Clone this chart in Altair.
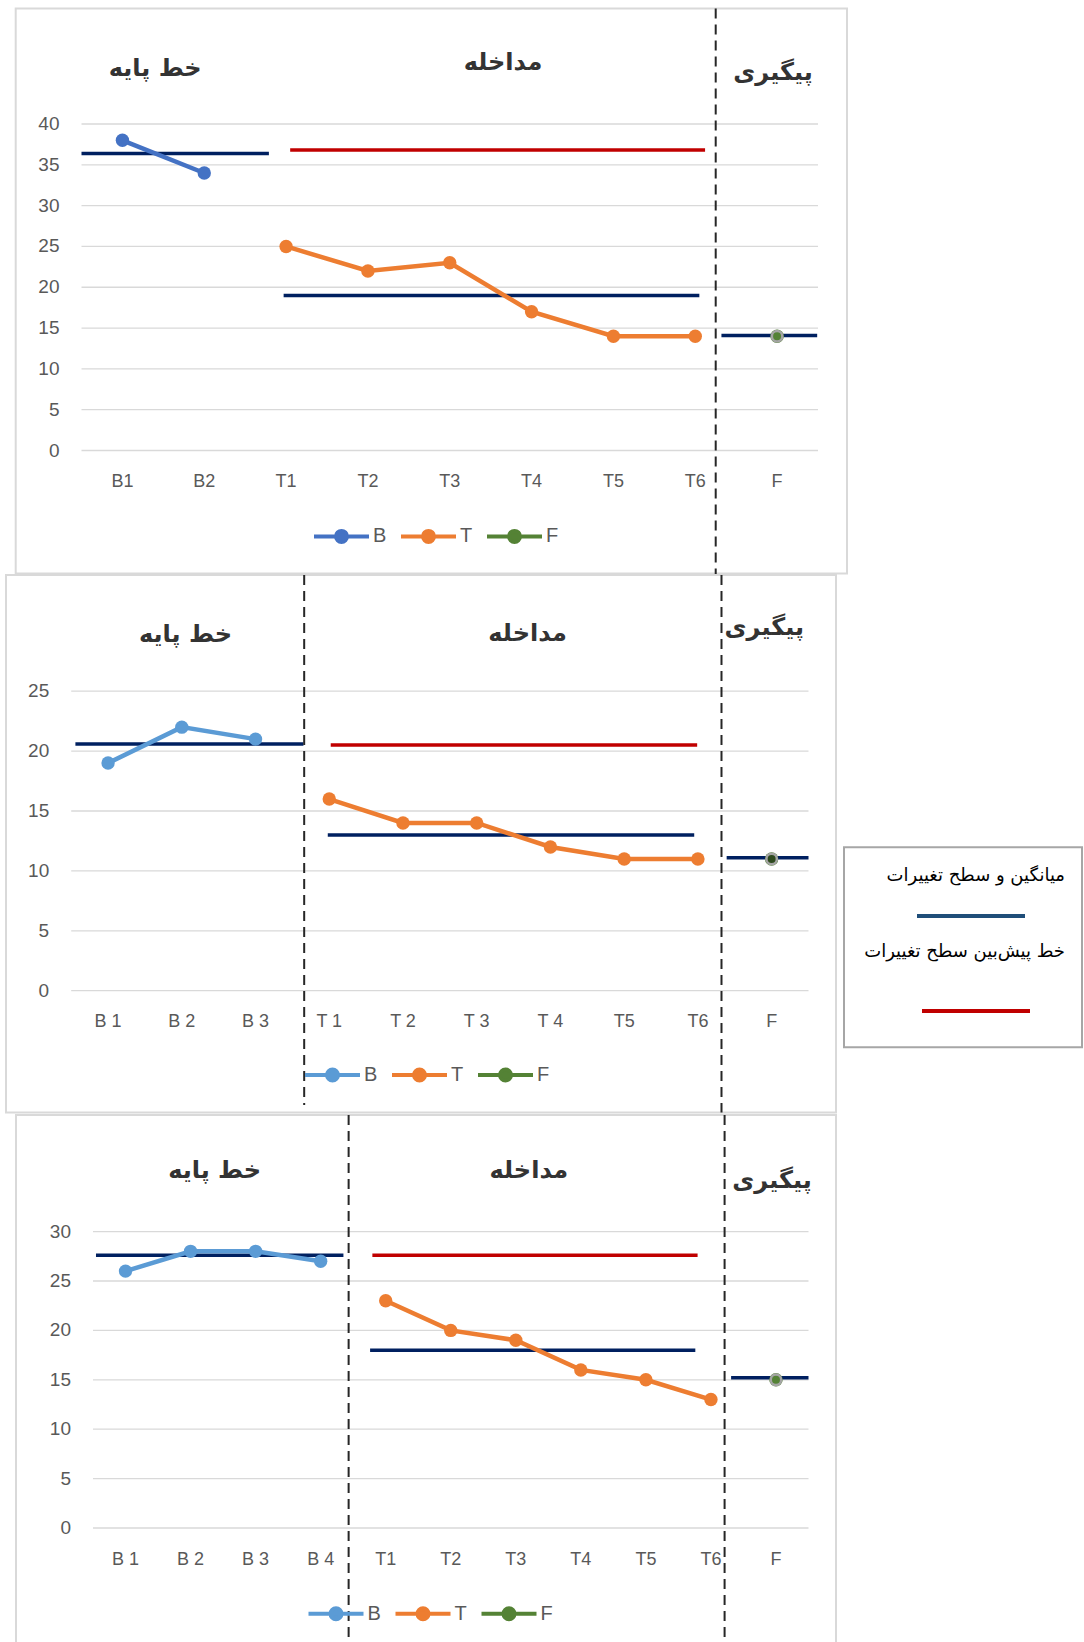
import altair as alt
import pandas as pd

# ---------------- data ----------------
series_names = ["B", "T", "F"]
phase_names = ["خط پایه", "مداخله", "پیگیری"]
legend_box_texts = ["میانگین و سطح تغییرات", "خط پیش‌بین سطح تغییرات"]

p1_categories = ["B1", "B2", "T1", "T2", "T3", "T4", "T5", "T6", "F"]
p1_B = [38, 34]
p1_T = [25, 22, 23, 17, 14, 14]
p1_F = [14]
p1_mean_B, p1_mean_T, p1_mean_F = 36.4, 19.0, 14.1
p1_pred = 36.8

p2_categories = ["B 1", "B 2", "B 3", "T 1", "T 2", "T 3", "T 4", "T5", "T6", "F"]
p2_B = [19, 22, 21]
p2_T = [16, 14, 14, 12, 11, 11]
p2_F = [11]
p2_mean_B, p2_mean_T, p2_mean_F = 20.6, 13.0, 11.1
p2_pred = 20.5

p3_categories = ["B 1", "B 2", "B 3", "B 4", "T1", "T2", "T3", "T4", "T5", "T6", "F"]
p3_B = [26, 28, 28, 27]
p3_T = [23, 20, 19, 16, 15, 13]
p3_F = [15]
p3_mean_B, p3_mean_T, p3_mean_F = 27.6, 18.0, 15.2
p3_pred = 27.6

# ---------------- layout / style ----------------
CANVAS_W, CANVAS_H = 1084, 1642
FONT = "Liberation Sans, Arial, sans-serif"
FA_FONT = "DejaVu Sans, sans-serif"
LABEL = "#595959"
GRID = "#D9D9D9"
NAVY = "#002060"
RED = "#C00000"
ORANGE = "#ED7D31"
GREEN = "#548235"
SYMBOL_PATH = "M-1,0H1M-0.2,0A0.2,0.2,0,1,1,0.2,0A0.2,0.2,0,1,1,-0.2,0Z"

panels = [
    dict(cats=p1_categories, B=p1_B, T=p1_T, F=p1_F,
         means=[(p1_mean_B, 0.5, 2.79), (p1_mean_T, 2.97, 8.05), (p1_mean_F, 8.32, 9.49)],
         pred=(p1_pred, 3.05, 8.12), ymax=40,
         origin=(81.5, 124.0), width=736.5, height=326.5,
         box=(15.7, 8.4, 847.0, 573.5),
         dashes=[(8.25, 8.4, 574.5)],
         phases=[(1.40, 69.0), (5.65, 62.8), (8.95, 73.3)],
         legend_xy=(312.0, 534.4), colorB="#4472C4", fdot=GREEN, legend_box=False),
    dict(cats=p2_categories, B=p2_B, T=p2_T, F=p2_F,
         means=[(p2_mean_B, 0.557, 3.65), (p2_mean_T, 3.98, 8.95), (p2_mean_F, 9.39, 10.5)],
         pred=(p2_pred, 4.02, 8.99), ymax=25,
         origin=(71.2, 691.2), width=737.3, height=299.5,
         box=(6.0, 575.0, 836.0, 1112.5),
         dashes=[(3.66, 575.0, 1105.0), (9.32, 575.0, 1112.5)],
         phases=[(2.05, 634.7), (6.69, 633.6), (9.90, 628.4)],
         legend_xy=(303.0, 1073.0), colorB="#5B9BD5", fdot="#2E4A1E", legend_box=True),
    dict(cats=p3_categories, B=p3_B, T=p3_T, F=p3_F,
         means=[(p3_mean_B, 0.546, 4.35), (p3_mean_T, 4.76, 9.76), (p3_mean_F, 10.31, 11.5)],
         pred=(p3_pred, 4.795, 9.795), ymax=30,
         origin=(93.0, 1231.6), width=715.5, height=296.4,
         box=(16.0, 1115.0, 836.0, 1700.0),
         dashes=[(4.43, 1115.0, 1642.0), (10.21, 1115.0, 1642.0)],
         phases=[(2.37, 1171.0), (7.20, 1171.0), (10.94, 1181.0)],
         legend_xy=(306.5, 1611.7), colorB="#5B9BD5", fdot=GREEN, legend_box=False),
]

one = pd.DataFrame({"k": [0]})


def make_panel(cfg):
    ox, oy = cfg["origin"]
    w, h = cfg["width"], cfg["height"]
    n = len(cfg["cats"])
    xs = alt.Scale(domain=[0.5, n + 0.5], range=[ox, ox + w], nice=False, zero=False)
    ys = alt.Scale(domain=[0, cfg["ymax"]], range=[oy + h, oy], nice=False, zero=False)

    def X(f):
        return alt.X(f, type="quantitative", scale=xs, axis=None)

    def Y(f):
        return alt.Y(f, type="quantitative", scale=ys, axis=None)

    # series table
    nb = len(cfg["B"])
    rows = []
    for i, v in enumerate(cfg["B"]):
        rows.append(("B", i + 1, v))
    for i, v in enumerate(cfg["T"]):
        rows.append(("T", nb + i + 1, v))
    for v in cfg["F"]:
        rows.append(("F", n, v))
    df = pd.DataFrame(rows, columns=["series", "idx", "value"])

    layers = []

    # panel frame
    bx1, by1, bx2, by2 = cfg["box"]
    layers.append(alt.Chart(one).mark_rect(fillOpacity=0, stroke=GRID, strokeWidth=2).encode(
        x=alt.value(bx1), x2=alt.value(bx2), y=alt.value(by1), y2=alt.value(by2)))

    # gridlines and value labels
    ticks = pd.DataFrame({"tick": list(range(0, cfg["ymax"] + 1, 5))})
    ticks["xa"] = 0.5
    ticks["xb"] = n + 0.5
    layers.append(alt.Chart(ticks).mark_rule(color=GRID, strokeWidth=1.3).encode(
        x=X("xa"), x2="xb", y=Y("tick")))
    layers.append(alt.Chart(ticks).mark_text(
        align="right", baseline="middle", dx=-22, font=FONT, fontSize=19, color=LABEL).encode(
        x=X("xa"), y=Y("tick"), text=alt.Text("tick:Q", format="d")))

    # category labels
    cats = pd.DataFrame({"idx": list(range(1, n + 1)), "label": cfg["cats"], "zero": 0})
    layers.append(alt.Chart(cats).mark_text(
        align="center", baseline="middle", dy=31.5, font=FONT, fontSize=18, color=LABEL).encode(
        x=X("idx"), y=Y("zero"), text="label:N"))

    # phase levels (navy) and predicted level (red)
    means_df = pd.DataFrame(cfg["means"], columns=["level", "x1", "x2"])
    layers.append(alt.Chart(means_df).mark_rule(color=NAVY, strokeWidth=3.5).encode(
        x=X("x1"), x2="x2", y=Y("level")))
    pv, p1, p2 = cfg["pred"]
    pred_df = pd.DataFrame({"level": [pv], "x1": [p1], "x2": [p2]})
    layers.append(alt.Chart(pred_df).mark_rule(color=RED, strokeWidth=3.5).encode(
        x=X("x1"), x2="x2", y=Y("level")))

    # phase separators
    for (dx, t0, t1) in cfg["dashes"]:
        layers.append(alt.Chart(pd.DataFrame({"xd": [dx]})).mark_rule(
            color="#262626", strokeWidth=2, strokeDash=[10, 6]).encode(
            x=X("xd"), y=alt.value(t0), y2=alt.value(t1)))

    colors = [cfg["colorB"], ORANGE, GREEN]
    lx, ly = cfg["legend_xy"]
    legend = alt.Legend(orient="none", legendX=lx, legendY=ly - 27.5,
                        direction="horizontal", columns=3, title=None,
                        symbolType=SYMBOL_PATH, symbolSize=3025, symbolStrokeWidth=4,
                        labelFont=FONT, labelFontSize=20, labelColor=LABEL,
                        labelOffset=2, columnPadding=6, padding=0, symbolOpacity=1)

    layers.append(alt.Chart(df).mark_line(strokeWidth=4.5).encode(
        x=X("idx"), y=Y("value"),
        stroke=alt.Stroke("series:N", scale=alt.Scale(domain=series_names, range=colors),
                          legend=legend)))
    layers.append(alt.Chart(df).mark_point(filled=True, size=180, opacity=1).encode(
        x=X("idx"), y=Y("value"),
        fill=alt.Fill("series:N", scale=alt.Scale(domain=series_names, range=colors),
                      legend=legend)))
    fdf = df[df.series == "F"]
    layers.append(alt.Chart(fdf).mark_point(filled=True, size=110, opacity=1, fill=cfg["fdot"],
                                            stroke="#A5A5A5", strokeWidth=2.5).encode(
        x=X("idx"), y=Y("value")))

    # phase titles
    for name, (px, py) in zip(phase_names, cfg["phases"]):
        layers.append(alt.Chart(pd.DataFrame({"label": [name], "xp": [px]})).mark_text(
            font=FA_FONT, fontSize=24, fontWeight="bold", color="#333333",
            baseline="middle", align="center").encode(
            x=X("xp"), y=alt.value(py), text="label:N"))

    if cfg["legend_box"]:
        layers.append(alt.Chart(one).mark_rect(fillOpacity=0, stroke="#A6A6A6", strokeWidth=2).encode(
            x=alt.value(844), x2=alt.value(1082), y=alt.value(847.3), y2=alt.value(1047.3)))
        layers.append(alt.Chart(pd.DataFrame({"s": [legend_box_texts[0]]})).mark_text(
            font=FA_FONT, fontSize=18, color="black", align="right", baseline="middle").encode(
            x=alt.value(1065), y=alt.value(876), text="s:N"))
        layers.append(alt.Chart(pd.DataFrame({"s": [legend_box_texts[1]]})).mark_text(
            font=FA_FONT, fontSize=18, color="black", align="right", baseline="middle").encode(
            x=alt.value(1065), y=alt.value(951.7), text="s:N"))
        layers.append(alt.Chart(one).mark_rule(color="#1F4E79", strokeWidth=4).encode(
            x=alt.value(917), x2=alt.value(1025), y=alt.value(916)))
        layers.append(alt.Chart(one).mark_rule(color=RED, strokeWidth=4).encode(
            x=alt.value(922), x2=alt.value(1030), y=alt.value(1011)))

    return alt.layer(*layers)


charts = [make_panel(c) for c in panels]

chart = alt.layer(*charts).resolve_scale(
    x="independent", y="independent", stroke="independent", fill="independent"
).resolve_legend(stroke="independent", fill="independent").properties(
    width=CANVAS_W, height=CANVAS_H, padding=0, background="white",
    autosize=alt.AutoSizeParams(type="none")
).configure_view(stroke=None)

chart.save("out.html", embed_options={"renderer": "svg", "actions": False})
